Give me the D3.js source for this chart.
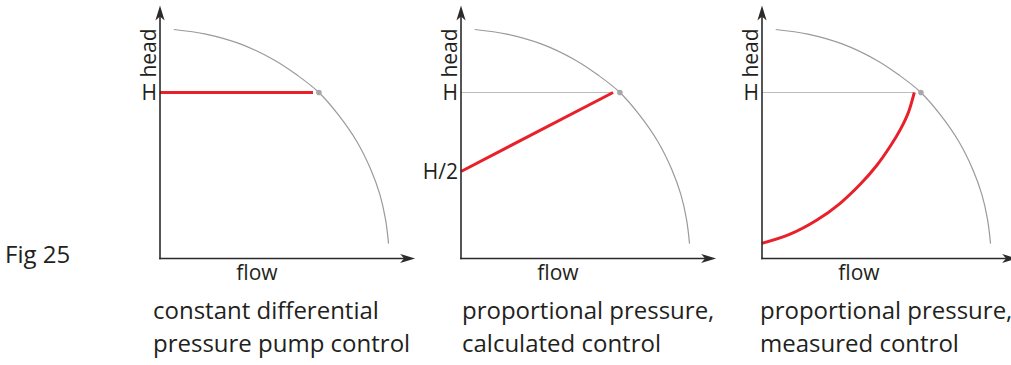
<!DOCTYPE html>
<html>
<head>
<meta charset="utf-8">
<script src="https://cdn.jsdelivr.net/npm/d3@7"></script>
<style>
  html, body { margin: 0; padding: 0; background: #fff; }
  svg { display: block; }
  text { font-family: "Open Sans", "Noto Sans", sans-serif; fill: #231f20; }
</style>
</head>
<body>
<svg id="chart" width="1011" height="365"></svg>
<script>
// Pump curve (flow, head) shared by all three panels
const pumpCurve = [
  [6, 100], [20, 98], [35, 93.7], [50, 86.6], [60, 80], [69.4, 72.5],
  [78, 62.6], [86, 51], [92, 39], [96, 28], [98.5, 17], [99.8, 6.5]
];
// Duty point where the control curve meets the pump curve
const dutyFlow = 69.4;
const dutyHead = 72.5;

// Control curves for each mode
const constantDiff = [[0, 72.5], [66.8, 72.5]];
const proportionalCalc = [[0, 38], [66.4, 72.5]];
const proportionalMeasured = [
  [0, 6.6], [12, 10.5], [24, 16.8], [34, 24], [43, 32.5], [50, 40.5],
  [56, 49], [60.5, 56.5], [64, 64], [66.5, 72.5]
];

// Head tick labels per panel
const headTicks1 = [{ label: "H", value: 72.5 }];
const headTicks2 = [{ label: "H", value: 72.5 }, { label: "H/2", value: 38 }];
const headTicks3 = [{ label: "H", value: 72.5 }];

// Captions
const caption1 = ["constant differential", "pressure pump control"];
const caption2 = ["proportional pressure,", "calculated control"];
const caption3 = ["proportional pressure,", "measured control"];

const figLabel = "Fig 25";
const xAxisTitle = "flow";
const yAxisTitle = "head";

const panels = [
  { ox: 160, control: constantDiff, ticks: headTicks1, caption: caption1, capX: 153, guide: false, curved: false },
  { ox: 461, control: proportionalCalc, ticks: headTicks2, caption: caption2, capX: 462, guide: true, curved: false },
  { ox: 762, control: proportionalMeasured, ticks: headTicks3, caption: caption3, capX: 760, guide: true, curved: true }
];

const svg = d3.select("#chart");
const baseY = 258.5;
const unit = 229;          // pixels spanned by 100 units of flow/head
const flowAxisMax = 111.4;
const headAxisMax = 110.5;
const axisColor = "#2b2b2b";

svg.append("text")
  .attr("x", 5).attr("y", 263)
  .attr("font-size", 24)
  .text(figLabel);

function arrowHead(g, x, y, dir) {
  // dir: "up" or "right"; notched filled arrow with tip at (x, y)
  const L = 15, W = 4.6, N = 4;
  let pts;
  if (dir === "up") {
    pts = [[x, y], [x + W, y + L], [x, y + L - N], [x - W, y + L]];
  } else {
    pts = [[x, y], [x - L, y - W], [x - L + N, y], [x - L, y + W]];
  }
  g.append("path")
    .attr("d", "M" + pts.map(p => p.join(",")).join("L") + "Z")
    .attr("fill", axisColor);
}

panels.forEach(p => {
  const x = d3.scaleLinear().domain([0, 100]).range([p.ox, p.ox + unit]);
  const y = d3.scaleLinear().domain([0, 100]).range([baseY, baseY - unit]);
  const g = svg.append("g");

  const endFlow = p.control[p.control.length - 1][0];

  // light guide at H
  if (p.guide) {
    g.append("line")
      .attr("x1", x(0)).attr("x2", x(endFlow))
      .attr("y1", y(dutyHead)).attr("y2", y(dutyHead))
      .attr("stroke", "#bdbdbd").attr("stroke-width", 1.1);
  }

  // pump curve
  g.append("path")
    .datum(pumpCurve)
    .attr("d", d3.line().x(d => x(d[0])).y(d => y(d[1])).curve(d3.curveCatmullRom.alpha(0.5)))
    .attr("fill", "none")
    .attr("stroke", "#9a9a9a")
    .attr("stroke-width", 1.2);

  // control curve
  g.append("path")
    .datum(p.control)
    .attr("d", d3.line().x(d => x(d[0])).y(d => y(d[1]))
      .curve(p.curved ? d3.curveCatmullRom.alpha(0.5) : d3.curveLinear))
    .attr("fill", "none")
    .attr("stroke", "#e8202a")
    .attr("stroke-width", 3);

  // duty point
  g.append("circle")
    .attr("cx", x(dutyFlow)).attr("cy", y(dutyHead))
    .attr("r", 2.8)
    .attr("fill", "#a8a8a8");

  // axes
  g.append("line")
    .attr("x1", x(0)).attr("x2", x(0))
    .attr("y1", y(0) + 0.8).attr("y2", y(headAxisMax) + 8)
    .attr("stroke", axisColor).attr("stroke-width", 1.6);
  g.append("line")
    .attr("x1", x(0) - 0.8).attr("x2", x(flowAxisMax) - 8)
    .attr("y1", y(0)).attr("y2", y(0))
    .attr("stroke", axisColor).attr("stroke-width", 1.6);
  arrowHead(g, x(0), y(headAxisMax), "up");
  arrowHead(g, x(flowAxisMax), y(0), "right");

  // head ticks
  p.ticks.forEach(t => {
    g.append("text")
      .attr("x", x(0) - 3).attr("y", y(t.value))
      .attr("text-anchor", "end")
      .attr("dominant-baseline", "central")
      .attr("font-size", 21)
      .text(t.label);
  });

  // axis titles
  g.append("text")
    .attr("transform", `translate(${x(0) - 4},${y(79)}) rotate(-90)`)
    .attr("font-size", 21)
    .text(yAxisTitle);
  g.append("text")
    .attr("x", x(0) + 97).attr("y", 280)
    .attr("text-anchor", "middle")
    .attr("font-size", 21)
    .text(xAxisTitle);

  // caption
  p.caption.forEach((line, i) => {
    g.append("text")
      .attr("x", p.capX).attr("y", 319 + i * 33)
      .attr("font-size", 24)
      .text(line);
  });
});
</script>
</body>
</html>
